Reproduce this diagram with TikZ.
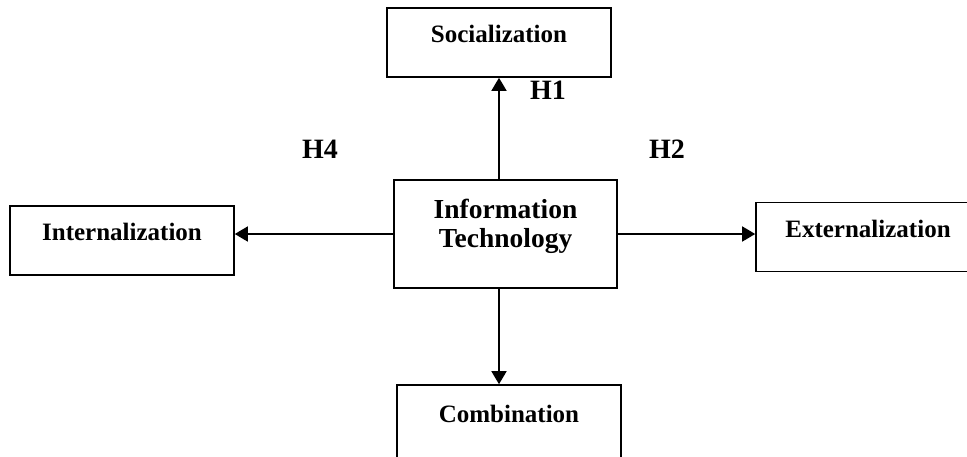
\documentclass[tikz,border=0pt]{standalone}
\usepackage{fontspec}
\setmainfont{Liberation Serif}
\usetikzlibrary{arrows.meta,positioning}

\begin{document}
\begin{tikzpicture}[
    x=1pt, y=-1pt,
    >={Triangle[length=13pt,width=15pt]},
    mode/.style={draw, line width=1.6pt, minimum width=224pt, minimum height=69pt,
       inner sep=0pt, text height=10pt, text depth=10pt,
       font=\fontsize{25}{30}\selectfont\bfseries},
    core/.style={draw, line width=1.6pt, minimum width=223pt, minimum height=108pt,
       inner sep=0pt, align=center, text height=36pt, text depth=10pt,
       font=\fontsize{27.5}{30}\selectfont\bfseries},
    hyp/.style={font=\fontsize{28}{30}\selectfont\bfseries},
    link/.style={line width=1.6pt, ->}
  ]
    \clip (0,0) rectangle (967,456);

    % Central construct
    \node[core] (it) at (505.5, 234) {Information\\[-1pt]Technology};

    % SECI modes
    \node[mode] (soc)   at (499, 42.5)  {Socialization};
    \node[mode] (ext)   at (868, 237)   {Externalization};
    \node[mode, minimum height=75pt] (comb) at (509, 422.5) {Combination};
    \node[mode] (intl)  at (122, 240.5) {Internalization};

    % Hypotheses
    \node[hyp] (h1) at (548, 90)  {H1};
    \node[hyp] (h2) at (667, 149) {H2};
    \node[hyp] (h4) at (320, 149) {H4};

    % Links from IT to each mode
    \draw[link] (soc.south |- it.north) -- (soc.south);
    \draw[link] (it.east) -- (it.east -| ext.west);
    \draw[link] (soc.south |- it.south) -- (soc.south |- comb.north);
    \draw[link] (it.west) -- (it.west -| intl.east);
  \end{tikzpicture}
\end{document}
